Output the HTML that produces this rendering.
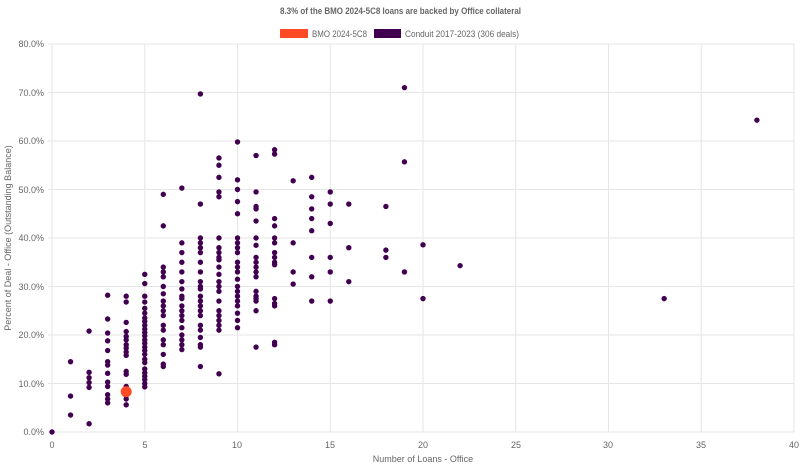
<!DOCTYPE html>
<html><head><meta charset="utf-8"><style>
body{margin:0;background:#fff;width:800px;height:467px;overflow:hidden}
svg{font-family:"Liberation Sans",sans-serif}
</style></head><body>
<svg id="s" width="800" height="467" viewBox="0 0 800 467">
<text x="280" y="14" font-size="9" font-weight="bold" fill="#666" textLength="241" lengthAdjust="spacingAndGlyphs">8.3% of the BMO 2024-5C8 loans are backed by Office collateral</text>
<rect x="280" y="29" width="28" height="9" fill="#ff4a26"/>
<text x="312" y="37" font-size="9" fill="#666" textLength="55" lengthAdjust="spacingAndGlyphs">BMO 2024-5C8</text>
<rect x="374" y="29" width="27" height="9" fill="#40004f"/>
<text x="405" y="37" font-size="9" fill="#666" textLength="114" lengthAdjust="spacingAndGlyphs">Conduit 2017-2023 (306 deals)</text>
<g id="grid" stroke="#e6e6e6" stroke-width="1"></g>
<g font-size="9" fill="#666" text-anchor="end">
<text x="44" y="47">80.0%</text><text x="44" y="96">70.0%</text><text x="44" y="144">60.0%</text><text x="44" y="193">50.0%</text><text x="44" y="241">40.0%</text><text x="44" y="290">30.0%</text><text x="44" y="338">20.0%</text><text x="44" y="387">10.0%</text><text x="44" y="435">0.0%</text>
</g>
<g font-size="9" fill="#666" text-anchor="middle">
<text x="52" y="448">0</text><text x="145" y="448">5</text><text x="237" y="448">10</text><text x="330" y="448">15</text><text x="423" y="448">20</text><text x="516" y="448">25</text><text x="608" y="448">30</text><text x="701" y="448">35</text><text x="794" y="448">40</text>
</g>
<text x="423" y="462" font-size="9" fill="#666" text-anchor="middle">Number of Loans - Office</text>
<text transform="translate(11,238) rotate(-90)" font-size="9" fill="#666" text-anchor="middle">Percent of Deal - Office (Outstanding Balance)</text>
<g id="pts" fill="#40004f"></g>
<circle cx="126.2" cy="391.7" r="5.5" fill="#ff4a26"/>
</svg>
<script>
var X=function(v){return 52+v*18.55},Y=function(p){return 432-p*4.85};
var g=document.getElementById('grid'),h='';
for(var i=0;i<=8;i++){var x=X(i*5);h+='<line x1="'+x+'" y1="44" x2="'+x+'" y2="432"/>';var y=Y(i*10);h+='<line x1="48" y1="'+y+'" x2="794" y2="'+y+'"/>';}
g.innerHTML=h;
var d={0:[0],1:[14.5,7.4,3.5],2:[20.8,12.3,11.2,10.2,9.2,1.7],
3:[28.2,23.3,20.4,18.8,16.8,14.5,13.8,12.1,10.3,9.4,7.7,6.8,6],
4:[28,26.8,22.6,20.7,19.7,19,18,17.3,16.5,15.8,12.5,11.9,9.4,7.5,6.8,5.6],
5:[32.5,30.6,28,26.8,25.5,24.5,23.5,22.8,22,21.2,20.5,19.8,19,18.3,17.5,16.8,16,15,14.3,13,12.2,11.5,10.8,10,9.3],
6:[49,42.5,34,33,32,30,28.5,27,26,25,24,22,21,19,18,16,14,13.5],
7:[50.3,39,37,35,33,31,29.5,28,27.5,26,25,24,23,21.5,20,19,18,17],
8:[69.7,47,40,39,38,37,35,33,31,30,29.5,28,27,26,25,24,22,21,19.5,18,17.5,13.5],
9:[56.5,55,52.5,49.5,48.5,40,38,37,36,35.5,34,32.5,31,30,29,27,25,24,23,22,21,12],
10:[59.8,52,50,47.5,45,40,39,38,37,35,34,33,31.5,30,29,28,27,26,24.5,23,21.5],
11:[57,49.5,46.5,46,43.5,40,38.5,36,35,34,33,32,29,28,27.5,27,25,17.5],
12:[58.2,57.3,44,42.5,40,39,37,36,35,34.5,27.5,26.5,26,18.5,18],
13:[51.8,39,33,30.5],14:[52.5,48.5,46,44,41.5,36,32,27],15:[49.5,47,43,36,33,27],
16:[47,38,31],18:[46.5,37.5,36],19:[71,55.7,33],20:[38.6,27.5],22:[34.3],33:[27.5],38:[64.3]};
var s='';for(var k in d)d[k].forEach(function(p){s+='<circle cx="'+X(+k)+'" cy="'+Y(p)+'" r="2.7"/>';});
document.getElementById('pts').innerHTML=s;
</script>
</body></html>
